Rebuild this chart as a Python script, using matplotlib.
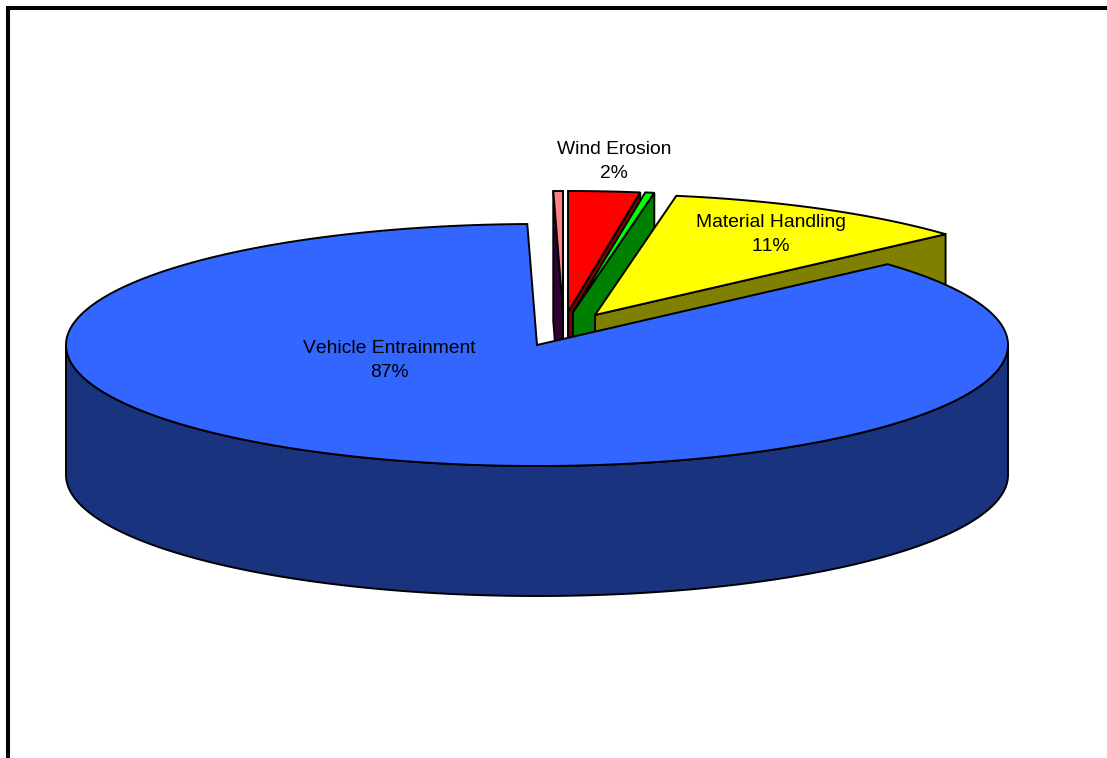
import numpy as np
from matplotlib import pyplot as plt

plt.rcParams['font.family'] = ['Liberation Sans', 'DejaVu Sans']
plt.rcParams['text.kerning_factor'] = 6

# share of the full circle for each slice, clockwise from the vehicle slice
slice_names = ['Vehicle Entrainment', 'pink', 'Wind Erosion', 'lime', 'Material Handling']
slice_pct = [86.31, 0.33, 2.45, 0.31, 10.60]

label_lines = [('Wind Erosion', '2%'), ('Material Handling', '11%'), ('Vehicle Entrainment', '87%')]

top_colors = {'Vehicle Entrainment': '#3366FF', 'pink': '#FF8080', 'Wind Erosion': '#FF0000',
              'lime': '#00FF00', 'Material Handling': '#FFFF00'}
wall_colors = {'Vehicle Entrainment': '#19337F', 'pink': '#330033', 'Wind Erosion': '#800000',
               'lime': '#008000', 'Material Handling': '#808000'}

# pie geometry in pixels
cx, cy = 537, 345
rx, ry = 471, 121
depth = 130
start_angle = 48.1
apex_shift = {'Vehicle Entrainment': (0, 0), 'pink': (26, -33), 'Wind Erosion': (31, -33),
              'lime': (36, -33), 'Material Handling': (58, -30)}
label_pos = {'Wind Erosion': (614, 149.5), 'Material Handling': (771, 222.5), 'Vehicle Entrainment': (389, 348.5)}

fig = plt.figure(figsize=(11.07, 7.58), dpi=100)
ax = fig.add_axes([0, 0, 1, 1])
ax.set_xlim(0, 1107)
ax.set_ylim(758, 0)
ax.axis('off')

count = [0]


def z():
    count[0] += 1
    return 2 + count[0] * 0.01


def rim(ax0, ay0, a):
    a = np.radians(a)
    return ax0 + rx * np.sin(a), ay0 - ry * np.cos(a)


def wall(ax0, ay0, a, color):
    x, y = rim(ax0, ay0, a)
    ax.fill([ax0, x, x, ax0], [ay0, y, y + depth, ay0 + depth], fc=color, ec='black', lw=1.4, zorder=z())


# work out slice angles from the shares
ends = start_angle + np.cumsum(slice_pct) * 3.6
starts = np.concatenate([[start_angle], ends[:-1]])

# small slices first, the big one goes over them
order = [1, 2, 3, 4, 0]
for i in order:
    name = slice_names[i]
    a0, a1 = starts[i], ends[i]
    ax0, ay0 = cx + apex_shift[name][0], cy + apex_shift[name][1]

    if name == 'Vehicle Entrainment':
        # outer wall, only the front half of the rim shows
        t = np.linspace(90, 270, 200)
        x, y = rim(ax0, ay0, t)
        ax.fill(np.r_[x, x[::-1]], np.r_[y, y[::-1] + depth], fc=wall_colors[name], ec='black', lw=1.4, zorder=z())
    else:
        if np.sin(np.radians(a0)) < 0:
            wall(ax0, ay0, a0, wall_colors[name])
        if np.sin(np.radians(a1)) > 0:
            wall(ax0, ay0, a1, wall_colors[name])

    t = np.linspace(a0, a1, 400)
    x, y = rim(ax0, ay0, t)
    ax.fill(np.r_[ax0, x], np.r_[ay0, y], fc=top_colors[name], ec='black', lw=1.4, zorder=z())

for name, pct in label_lines:
    x, y = label_pos[name]
    ax.text(x, y, name, ha='center', va='center', fontsize=13.9, color='black', zorder=5)
    ax.text(x, y + 24, pct, ha='center', va='center', fontsize=13.9, color='black', zorder=5)

# heavy frame, top and left only
ax.plot([8, 8, 1107], [758, 8, 8], color='black', lw=2.9, solid_joinstyle='miter', zorder=6)

fig.savefig('out.png', dpi=100)
